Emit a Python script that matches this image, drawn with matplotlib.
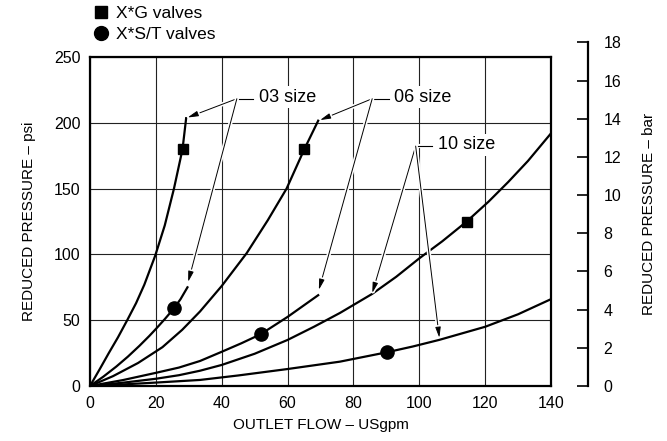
import matplotlib
matplotlib.use("Agg")
import matplotlib.pyplot as plt
import matplotlib.patheffects as pe
from matplotlib.lines import Line2D

plt.rcParams['font.family'] = ['Liberation Sans', 'DejaVu Sans']

PSI_PER_BAR = 14.5038

# curves (flow USgpm, pressure psi)
g03_x = [0, 3, 5.7, 8.5, 11.3, 14, 16.5, 19.8, 22.7, 25.5, 28.1, 29.2]
g03_y = [0, 13, 25, 37, 50, 63, 77, 99, 122, 150, 180, 203.5]
st03_x = [0, 4, 8, 11.5, 15, 18, 20.1, 22.7, 25.5, 27.5, 29.6]
st03_y = [0, 7, 14.8, 22.3, 30.5, 38, 43.6, 50.8, 59, 66, 75]
g06_x = [0, 7, 14.6, 22, 28, 33.4, 40, 47.6, 54, 59.7, 65.1, 69.3]
g06_y = [0, 7.5, 17.5, 29.5, 42.7, 56.6, 76, 101, 126, 150, 180, 201.6]
st06_x = [0, 10, 20, 27, 33.4, 40, 46, 51.8, 60, 69.3]
st06_y = [0, 4.5, 10, 14, 19, 26, 32.5, 39.3, 52.5, 69]
g10_x = [0, 10, 20, 27, 33.4, 40, 50, 60, 68, 75.9, 85.7, 93, 100, 107, 114.4, 121, 127, 133, 140]
g10_y = [0, 2.5, 5.5, 8.2, 11.6, 16, 24.5, 35, 45, 55.5, 70, 83, 97, 110, 125, 140, 155, 171, 192]
st10_x = [0, 10, 20, 33.4, 45, 60, 75.9, 90.1, 98, 106, 113, 120, 130, 140]
st10_y = [0, 1.2, 2.6, 4.6, 8, 12.9, 18.5, 25.6, 30, 35, 40, 45, 54.5, 66]

# marker points on the curves
g_mark_x = [28.1, 65.1, 114.4]
g_mark_y = [180, 180, 125]
st_mark_x = [25.5, 51.8, 90.1]
st_mark_y = [59, 39.3, 25.6]

# size callouts
size_labels = ['03 size', '06 size', '10 size']
label_xy = [(51.2, 219.5), (92.3, 219.5), (105.6, 183.3)]
joint_xy = [(44.6, 218.3), (85.7, 218.3), (98.9, 182.3)]
arrow_tips = [[(29.6, 204), (29.8, 79)],
              [(69.8, 202), (69.5, 73)],
              [(85.7, 70.5), (106.1, 36.5)]]

x_ticks = [0, 20, 40, 60, 80, 100, 120, 140]
psi_ticks = [0, 50, 100, 150, 200, 250]
bar_ticks = [0, 2, 4, 6, 8, 10, 12, 14, 16, 18]

fig = plt.figure(figsize=(6.67, 4.41), dpi=100)
L, B, W, H = 90 / 667, 55 / 441, 461 / 667, 329 / 441
ax = fig.add_axes([L, B, W, H])

for xs, ys in [(g03_x, g03_y), (st03_x, st03_y), (g06_x, g06_y),
               (st06_x, st06_y), (g10_x, g10_y), (st10_x, st10_y)]:
    ax.plot(xs, ys, color='k', lw=1.6, solid_joinstyle='round', zorder=3)

ax.plot(g_mark_x, g_mark_y, ls='none', marker='s', ms=7.8, color='k', zorder=4)
ax.plot(st_mark_x, st_mark_y, ls='none', marker='o', ms=9.5, color='k', zorder=4)

ax.set_xlim(0, 140)
ax.set_ylim(0, 250)
ax.set_xticks(x_ticks)
ax.set_yticks(psi_ticks)
ax.grid(True, color='#222222', lw=0.8, zorder=1)
ax.set_axisbelow(True)
ax.tick_params(length=0, labelsize=11.5, pad=7)
for s in ax.spines.values():
    s.set_linewidth(1.6)
ax.set_xlabel('OUTLET FLOW – USgpm', fontsize=11, labelpad=5)
ax.set_ylabel('REDUCED PRESSURE – psi', fontsize=11, labelpad=13)

halo = [pe.withStroke(linewidth=3, foreground='white')]
for lab, (tx, ty), (jx, jy), tips in zip(size_labels, label_xy, joint_xy, arrow_tips):
    ax.text(tx, ty, lab, fontsize=13, ha='left', va='center', zorder=6,
            bbox=dict(boxstyle='square,pad=0.15', fc='white', ec='none'))
    ax.plot([jx, tx - 1.6], [jy, jy], color='k', lw=0.8, zorder=5,
            path_effects=halo)
    for px, py in tips:
        ax.annotate('', xy=(px, py), xytext=(jx, jy), zorder=5,
                    arrowprops=dict(arrowstyle='-|>,head_length=0.8,head_width=0.2',
                                    color='k', lw=0.7, shrinkA=0, shrinkB=0,
                                    mutation_scale=8, path_effects=halo))

# separate right-hand bar scale, taller than the plot
ax2 = fig.add_axes([L, B, (588 - 90) / 667, H * 18 * PSI_PER_BAR / 250])
ax2.patch.set_visible(False)
for side in ['left', 'top', 'bottom']:
    ax2.spines[side].set_visible(False)
ax2.spines['right'].set_linewidth(1.6)
ax2.set_xticks([])
ax2.set_ylim(0, 18)
ax2.set_yticks(bar_ticks)
ax2.yaxis.tick_right()
ax2.yaxis.set_label_position('right')
ax2.tick_params(axis='y', direction='in', length=8, width=1.2, labelsize=11.5, pad=11)
ax2.set_ylabel('REDUCED PRESSURE – bar', fontsize=11, labelpad=15)

handles = [Line2D([], [], ls='none', marker='s', ms=9, color='k'),
           Line2D([], [], ls='none', marker='o', ms=10, color='k')]
fig.legend(handles, ['X*G valves', 'X*S/T valves'], loc='upper left',
           bbox_to_anchor=(94 / 667, 1 - 6 / 441), frameon=False, fontsize=12.5,
           handlelength=0.8, handletextpad=0.45, labelspacing=0.35,
           borderpad=0, borderaxespad=0)

fig.savefig('out.png', dpi=100)
